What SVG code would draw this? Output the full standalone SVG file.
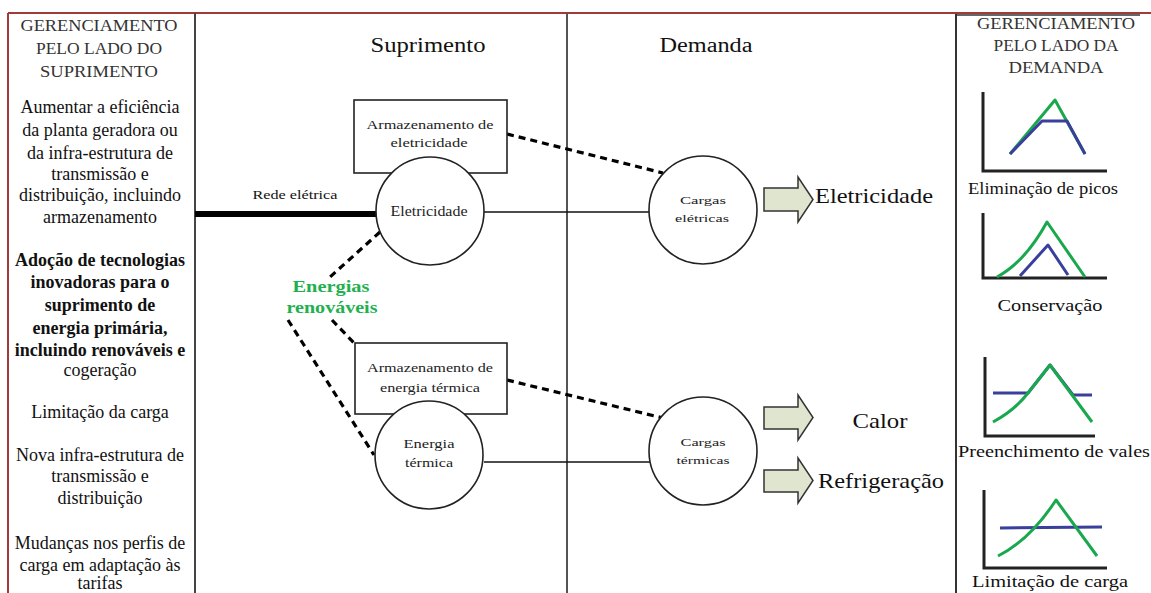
<svg xmlns="http://www.w3.org/2000/svg" width="1151" height="593" viewBox="0 0 1151 593" font-family="'Liberation Serif','DejaVu Serif',serif">
<style>
text{font-family:'Liberation Serif','DejaVu Serif',serif;fill:#111}
.side{font-size:18px;text-anchor:middle}
.hd{font-size:16px;text-anchor:middle;fill:#333}
.b{font-weight:bold}
.node{fill:#fff;stroke:#222;stroke-width:1.6}
.sm{text-anchor:middle;fill:#222}
.dash{fill:none;stroke:#000;stroke-width:3.2;stroke-dasharray:7,5}
.solid{fill:none;stroke:#111;stroke-width:1.5}
.arr{fill:#dfe5cf;stroke:#333;stroke-width:1.5}
.big{font-size:22px}
.ax{fill:none;stroke:#222;stroke-width:3}
.g{fill:none;stroke:#1aa84f;stroke-width:3;stroke-linejoin:round}
.bl{fill:none;stroke:#3a3f9c;stroke-width:3;stroke-linejoin:round}
.cap{font-size:17px;text-anchor:middle}
</style>
<rect width="1151" height="593" fill="#fff"/>
<g id="frame">
<line x1="8" y1="13" x2="1151" y2="13" stroke="#a33a3a" stroke-width="2"/>
<line x1="8" y1="13" x2="8" y2="593" stroke="#a33a3a" stroke-width="2"/>
<line x1="195" y1="13" x2="195" y2="593" stroke="#444" stroke-width="2"/>
<line x1="567" y1="13" x2="567" y2="593" stroke="#555" stroke-width="2"/>
<line x1="956" y1="14" x2="956" y2="593" stroke="#333" stroke-width="2"/>
<line x1="956" y1="15" x2="1140" y2="15" stroke="#333" stroke-width="1.5"/>
</g>
<g id="left-panel">
<text class="hd" x="99" y="31" textLength="157" lengthAdjust="spacingAndGlyphs">GERENCIAMENTO</text>
<text class="hd" x="99" y="54" textLength="126" lengthAdjust="spacingAndGlyphs">PELO LADO DO</text>
<text class="hd" x="99" y="77" textLength="118" lengthAdjust="spacingAndGlyphs">SUPRIMENTO</text>
<text class="side" x="100" y="113">Aumentar a eficiência</text>
<text class="side" x="100" y="136">da planta geradora ou</text>
<text class="side" x="100" y="159">da infra-estrutura de</text>
<text class="side" x="100" y="180">transmissão e</text>
<text class="side" x="100" y="201">distribuição, incluindo</text>
<text class="side" x="100" y="223">armazenamento</text>
<text class="side b" x="100" y="266">Adoção de tecnologias</text>
<text class="side b" x="100" y="288">inovadoras para o</text>
<text class="side b" x="100" y="311">suprimento de</text>
<text class="side b" x="100" y="334">energia primária,</text>
<text class="side b" x="100" y="356">incluindo renováveis e</text>
<text class="side" x="100" y="376">cogeração</text>
<text class="side" x="100" y="418">Limitação da carga</text>
<text class="side" x="100" y="461">Nova infra-estrutura de</text>
<text class="side" x="100" y="482">transmissão e</text>
<text class="side" x="100" y="504">distribuição</text>
<text class="side" x="100" y="549">Mudanças nos perfis de</text>
<text class="side" x="100" y="571">carga em adaptação às</text>
<text class="side" x="100" y="589">tarifas</text>
</g>
<text x="428" y="52" font-size="20" text-anchor="middle" textLength="115" lengthAdjust="spacingAndGlyphs">Suprimento</text>
<text x="706" y="52" font-size="20" text-anchor="middle" textLength="93" lengthAdjust="spacingAndGlyphs">Demanda</text>
<g id="connectors">
<line x1="195" y1="214" x2="377" y2="214" stroke="#000" stroke-width="6"/>
<line class="solid" x1="484" y1="212" x2="649" y2="212"/>
<line class="solid" x1="484" y1="462" x2="650" y2="462"/>
<line class="dash" x1="507" y1="134" x2="663" y2="173"/>
<line class="dash" x1="507" y1="380" x2="663" y2="418"/>
<line class="dash" x1="380" y1="232" x2="330" y2="277"/>
<line class="dash" x1="332" y1="320" x2="354" y2="343"/>
<line class="dash" x1="288" y1="320" x2="374" y2="455"/>
</g>
<text x="295" y="199" font-size="12" text-anchor="middle" textLength="85" lengthAdjust="spacingAndGlyphs">Rede elétrica</text>
<g id="energias-renovaveis">
<text x="331" y="292" font-size="17" font-weight="bold" text-anchor="middle" textLength="77" lengthAdjust="spacingAndGlyphs" style="fill:#22b04f">Energias</text>
<text x="332" y="313" font-size="17" font-weight="bold" text-anchor="middle" textLength="91" lengthAdjust="spacingAndGlyphs" style="fill:#22b04f">renováveis</text>
</g>
<g id="armazenamento-eletricidade">
<rect class="node" x="354" y="100" width="153" height="73"/>
<text class="sm" x="430" y="129" font-size="13" textLength="127" lengthAdjust="spacingAndGlyphs">Armazenamento de</text>
<text class="sm" x="429" y="147" font-size="13" textLength="77" lengthAdjust="spacingAndGlyphs">eletricidade</text>
</g>
<g id="eletricidade">
<circle class="node" cx="430" cy="211" r="54"/>
<text class="sm" x="429" y="216" font-size="14" textLength="77" lengthAdjust="spacingAndGlyphs">Eletricidade</text>
</g>
<g id="armazenamento-termica">
<rect class="node" x="355" y="343" width="152" height="71"/>
<text class="sm" x="430" y="372" font-size="13" textLength="126" lengthAdjust="spacingAndGlyphs">Armazenamento de</text>
<text class="sm" x="430" y="392" font-size="13" textLength="100" lengthAdjust="spacingAndGlyphs">energia térmica</text>
</g>
<g id="energia-termica">
<circle class="node" cx="429" cy="455" r="54"/>
<text class="sm" x="429" y="448" font-size="12" textLength="51" lengthAdjust="spacingAndGlyphs">Energia</text>
<text class="sm" x="429" y="467" font-size="12" textLength="48" lengthAdjust="spacingAndGlyphs">térmica</text>
</g>
<g id="cargas-eletricas">
<circle class="node" cx="703" cy="210" r="54"/>
<text class="sm" x="703" y="204" font-size="11" textLength="46" lengthAdjust="spacingAndGlyphs">Cargas</text>
<text class="sm" x="702" y="222" font-size="11" textLength="54" lengthAdjust="spacingAndGlyphs">elétricas</text>
</g>
<g id="cargas-termicas">
<circle class="node" cx="703" cy="451" r="54"/>
<text class="sm" x="703" y="446" font-size="11" textLength="45" lengthAdjust="spacingAndGlyphs">Cargas</text>
<text class="sm" x="703" y="464" font-size="11" textLength="53" lengthAdjust="spacingAndGlyphs">térmicas</text>
</g>
<g id="out-eletricidade">
<path class="arr" d="M764,188 H798 V177 L813,199.5 L798,222 V211 H764 Z"/>
<text class="big" x="815" y="203" textLength="118" lengthAdjust="spacingAndGlyphs">Eletricidade</text>
</g>
<g id="out-calor">
<path class="arr" d="M764,407 H798 V395 L813,417.5 L798,440 V429 H764 Z"/>
<text class="big" x="880" y="428" text-anchor="middle" textLength="55" lengthAdjust="spacingAndGlyphs">Calor</text>
</g>
<g id="out-refrigeracao">
<path class="arr" d="M764,470 H798 V458 L813,480.5 L798,503 V492 H764 Z"/>
<text class="big" x="818" y="488" textLength="126" lengthAdjust="spacingAndGlyphs">Refrigeração</text>
</g>
<g id="right-panel">
<text class="hd" x="1056" y="29" textLength="158" lengthAdjust="spacingAndGlyphs">GERENCIAMENTO</text>
<text class="hd" x="1056" y="51" textLength="125" lengthAdjust="spacingAndGlyphs">PELO LADO DA</text>
<text class="hd" x="1056" y="73" textLength="95" lengthAdjust="spacingAndGlyphs">DEMANDA</text>
</g>
<g id="eliminacao-picos">
<polyline class="ax" points="983,92 983,171 1107,171"/>
<polyline class="g" points="1010,154 1055,100 1085,154"/>
<polyline class="bl" points="1010,154 1042,121 1067,121 1085,154"/>
<text class="cap" x="1043" y="194" textLength="150" lengthAdjust="spacingAndGlyphs">Eliminação de picos</text>
</g>
<g id="conservacao">
<polyline class="ax" points="983,213 983,278 1107,278"/>
<path class="g" d="M997,277 Q1025,262 1047,222 L1085,277"/>
<polyline class="bl" points="1020,276 1048,245 1068,275"/>
<text class="cap" x="1050" y="311" textLength="105" lengthAdjust="spacingAndGlyphs">Conservação</text>
</g>
<g id="preenchimento-vales">
<polyline class="ax" points="985,357 985,436 1095,436"/>
<polyline class="bl" points="993,393 1028,393 1050,365 1073,395 1092,395"/>
<path class="g" d="M993,422 Q1015,410 1028,393 L1050,365 L1092,422"/>
<text class="cap" x="1054" y="457" textLength="192" lengthAdjust="spacingAndGlyphs">Preenchimento de vales</text>
</g>
<g id="limitacao-carga">
<polyline class="ax" points="984,490 984,568 1107,568"/>
<line class="bl" x1="1000" y1="528" x2="1102" y2="527"/>
<path class="g" d="M998,556 Q1030,540 1056,500 L1097,556"/>
<text class="cap" x="1050" y="587" textLength="156" lengthAdjust="spacingAndGlyphs">Limitação de carga</text>
</g>
</svg>
